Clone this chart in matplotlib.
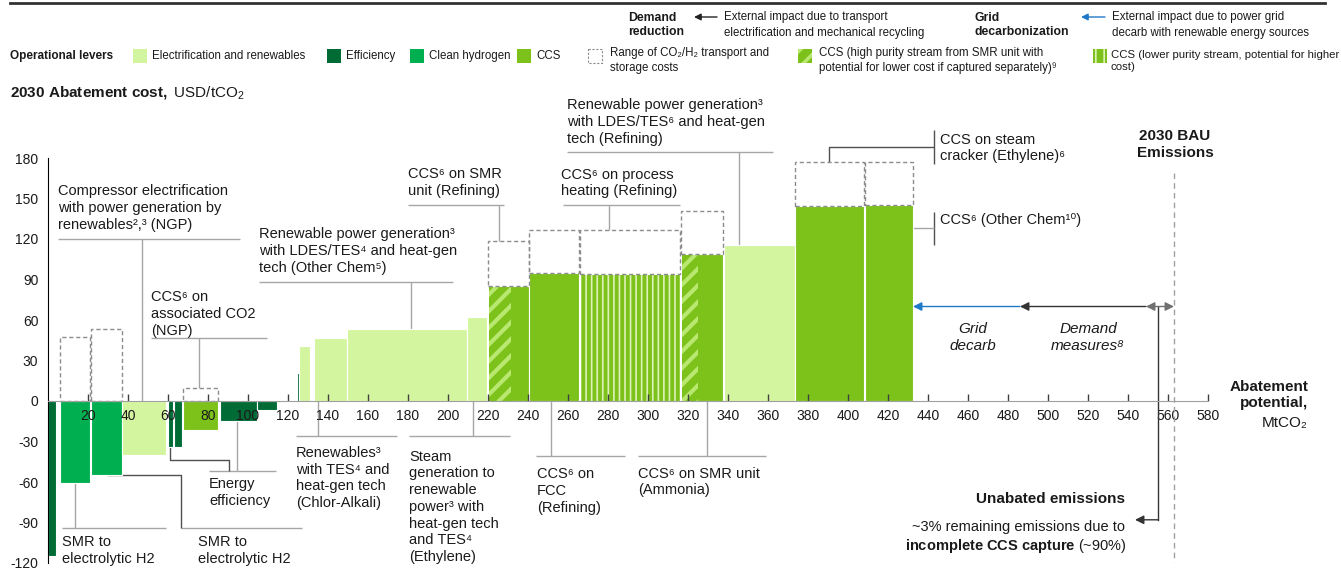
import matplotlib
matplotlib.use("Agg")
import matplotlib.pyplot as plt
from matplotlib.patches import Rectangle
import numpy as np

plt.rcParams['font.family'] = ['Liberation Sans', 'DejaVu Sans']
plt.rcParams['mathtext.fontset'] = 'custom'
plt.rcParams['mathtext.rm'] = 'Liberation Sans'
plt.rcParams['mathtext.it'] = 'Liberation Sans:italic'
plt.rcParams['mathtext.bf'] = 'Liberation Sans:bold'
plt.rcParams['axes.unicode_minus'] = False

# lever colours
colors = {'elec': '#D4F5A0', 'eff': '#006B35', 'h2': '#00B050', 'ccs': '#7CC21A'}
hatch_light = '#B9E870'
stripe_light = '#DDF2B8'
grey = '#A6A6A6'
dark = '#505050'
txt = '#1A1A1A'

# cost curve bars: left edge (MtCO2), width (MtCO2), cost (USD/tCO2), lever
bar_left = [0, 5, 6, 21.5, 37, 60, 63, 67.3, 86, 104.7, 115, 124.3, 125.7, 131.3,
            132.8, 149.5, 209.7, 220, 240.7, 266, 316.5, 338, 373.5, 408.3]
bar_width = [4, 0.7, 15, 15.5, 22, 2.6, 4.2, 17.7, 18.4, 10, 1, 1.1, 5.4, 0.9,
             16.5, 59.8, 9.8, 20.3, 25, 50.2, 21.2, 35.3, 34.6, 24]
bar_cost = [-115, -73, -60.5, -55, -40, -34, -34, -21.5, -15, -7, -1.5, 21, 40.7, 40.7,
            47, 53, 62, 85.4, 94.6, 94, 108.9, 115.5, 144.7, 145]
bar_lever = ['eff', 'eff', 'h2', 'h2', 'elec', 'eff', 'eff', 'ccs', 'eff', 'eff', 'elec',
             'eff', 'elec', 'elec', 'elec', 'elec', 'elec', 'ccs', 'ccs', 'ccs', 'ccs',
             'elec', 'ccs', 'ccs']
# top of the CO2/H2 transport and storage cost range (nan = none)
nan = np.nan
range_top = [nan, nan, 47.4, 53, nan, nan, nan, 10, nan, nan, nan, nan, nan, nan,
             nan, nan, nan, 118.5, 127, 127, 141, nan, 177, 177]
# part of the bar (MtCO2, from the left) that is high purity SMR stream
high_purity = [0] * 17 + [11.3, 0, 0, 8.3, 0, 0, 0]
# lower purity stream bars
low_purity = [False] * 19 + [True, False, False, False, False]

x_ticks = list(range(20, 581, 20))
y_ticks = list(range(-120, 181, 30))

# grid decarb / demand measures arrows (MtCO2) at cost level
arrow_level = 70
grid_decarb = (432.5, 486)
demand = (486, 549)
unabated = (549, 563)
bau = 563

fig = plt.figure(figsize=(13.41, 5.69), dpi=100)
ax = fig.add_axes([48 / 1341, 6 / 569, 1160 / 1341, 405 / 569])
ov = fig.add_axes([0, 0, 1, 1])
ov.set_xlim(0, 1341)
ov.set_ylim(569, 0)
ov.axis('off')

# bars
for i in range(len(bar_left)):
    ax.bar(bar_left[i], bar_cost[i], bar_width[i], align='edge',
           color=colors[bar_lever[i]], edgecolor='white', linewidth=0.8, zorder=1)
    if high_purity[i] > 0:
        with plt.rc_context({'hatch.linewidth': 3}):
            b = ax.bar(bar_left[i] + 0.3, bar_cost[i] - 0.6, high_purity[i] - 0.3,
                       align='edge', color=colors['ccs'], edgecolor=hatch_light,
                       linewidth=0, hatch='//', zorder=1.1)
        for p in b:
            if hasattr(p, 'set_hatch_linewidth'):
                p.set_hatch_linewidth(3)
    if low_purity[i]:
        with plt.rc_context({'hatch.linewidth': 1.2}):
            b = ax.bar(bar_left[i] + 0.3, bar_cost[i] - 0.6, bar_width[i] - 0.6,
                       align='edge', color=colors['ccs'], edgecolor=stripe_light,
                       linewidth=0, hatch='|||', zorder=1.1)
        for p in b:
            if hasattr(p, 'set_hatch_linewidth'):
                p.set_hatch_linewidth(1.2)
    if not np.isnan(range_top[i]):
        base = max(bar_cost[i], 0)
        ax.bar(bar_left[i], range_top[i] - base, bar_width[i], bottom=base,
               align='edge', fill=False, edgecolor='#8C8C8C', linewidth=1,
               linestyle=(0, (3, 2)), zorder=1.2)

# axes styling
ax.set_xlim(0, 580)
ax.set_ylim(-120, 180)
for s in ['top', 'right']:
    ax.spines[s].set_visible(False)
ax.spines['bottom'].set_position(('data', 0))
ax.spines['bottom'].set_color('#A0A0A0')
ax.spines['left'].set_color('black')
ax.set_xticks(x_ticks)
ax.set_yticks(y_ticks)
ax.tick_params(axis='x', direction='in', length=5, width=1, color='#404040',
               pad=6, labelsize=10, labelcolor=txt)
ax.tick_params(axis='y', length=0, pad=7, labelsize=10, labelcolor=txt)
ax.patch.set_alpha(0)

# leader lines and labels
labels = [
    "Compressor electrification\nwith power generation by\nrenewables²,³ (NGP)",
    "Renewable power generation³\nwith LDES/TES⁴ and heat-gen\ntech (Other Chem⁵)",
    "CCS⁶ on\nassociated CO2\n(NGP)",
    "CCS⁶ on SMR\nunit (Refining)",
    "CCS⁶ on process\nheating (Refining)",
    "Renewable power generation³\nwith LDES/TES⁶ and heat-gen\ntech (Refining)",
    "CCS on steam\ncracker (Ethylene)⁶",
    "CCS⁶ (Other Chem¹⁰)",
    "SMR to\nelectrolytic H2",
    "SMR to\nelectrolytic H2",
    "Energy\nefficiency",
    "Renewables³\nwith TES⁴ and\nheat-gen tech\n(Chlor-Alkali)",
    "Steam\ngeneration to\nrenewable\npower³ with\nheat-gen tech\nand TES⁴\n(Ethylene)",
    "CCS⁶ on\nFCC\n(Refining)",
    "CCS⁶ on SMR unit\n(Ammonia)",
]
label_pos = [(5, 143), (105.5, 111), (51.5, 64.4), (180, 162), (256.5, 161.5),
             (259.5, 206.7), (446, 187.4), (446, 134), (7, -110.7), (75, -110.7),
             (80.5, -68), (124, -57), (180.5, -78.5), (244.5, -66.7), (295, -60)]
leader_lines = [
    ([(5, 120), (96, 120)], [(47, 120), (47, 0)]),
    ([(105.5, 88), (202.5, 88)], [(181.5, 88), (181.5, 53)]),
    ([(51.5, 46.7), (109.5, 46.7)], [(75.5, 46.7), (75.5, 10)]),
    ([(180, 145), (228, 145)], [(225.5, 145), (225.5, 118.5)]),
    ([(257.5, 145), (316, 145)], [(280.5, 145), (280.5, 127)]),
    ([(259.5, 184.4), (362.5, 184.4)], [(345.5, 184.4), (345.5, 115.5)]),
    ([(443, 200.7), (443, 175.6)], [(390.5, 177), (390.5, 188), (443, 188)]),
    ([(443, 140), (443, 115.5)], [(432.5, 128), (443, 128)]),
    ([(7, -94), (59, -94)], [(13.5, -60.5), (13.5, -94)]),
    ([(66.5, -94), (127, -94)], [(29.5, -55), (66.5, -55), (66.5, -94)]),
    ([(80.5, -51.9), (114, -51.9)], [(61, -34), (61, -43.7), (90.5, -43.7), (90.5, -51.9)],
     [(94.5, -15), (94.5, -51.9)]),
    ([(124, -25.9), (174.5, -25.9)], [(135, 0), (135, -25.9)]),
    ([(180.5, -25.9), (231, -25.9)], [(212.5, 0), (212.5, -25.9)]),
    ([(244, -40.7), (288.5, -40.7)], [(251.5, 0), (251.5, -40.7)]),
    ([(295, -40.7), (359, -40.7)], [(329.5, 0), (329.5, -40.7)]),
]
dark_paths = {6: [0, 1], 7: [0], 9: [1], 10: [1]}

for k, lab in enumerate(labels):
    ax.text(label_pos[k][0], label_pos[k][1], lab, ha='left', va='center',
            fontsize=10.5, color=txt, linespacing=1.25, clip_on=False)
    for j, path in enumerate(leader_lines[k]):
        xs = [p[0] for p in path]
        ys = [p[1] for p in path]
        c = dark if j in dark_paths.get(k, []) else grey
        ax.plot(xs, ys, color=c, lw=1, clip_on=False, zorder=0.9,
                solid_capstyle='butt')

# external impact arrows
ax.annotate('', xy=(grid_decarb[0], arrow_level), xytext=(grid_decarb[1], arrow_level),
            arrowprops=dict(arrowstyle='-|>', color='#1F78C8', lw=1, mutation_scale=13,
                            shrinkA=0, shrinkB=0))
ax.annotate('', xy=(demand[0], arrow_level), xytext=(demand[1], arrow_level),
            arrowprops=dict(arrowstyle='-|>', color='#333333', lw=1, mutation_scale=13,
                            shrinkA=0, shrinkB=0))
ax.annotate('', xy=(unabated[0], arrow_level), xytext=(unabated[1], arrow_level),
            arrowprops=dict(arrowstyle='<|-|>', color='#707070', lw=1, mutation_scale=13,
                            shrinkA=0, shrinkB=0))
ax.plot([555, 555], [arrow_level, -88], color='#333333', lw=1, zorder=2)
ax.annotate('', xy=(543.5, -88), xytext=(555, -88),
            arrowprops=dict(arrowstyle='-|>', color='#333333', lw=1, mutation_scale=13,
                            shrinkA=0, shrinkB=0))
ax.plot([bau, bau], [169, -119], color='#A0A0A0', lw=1, linestyle=(0, (4, 3)), clip_on=False)

ax.text(563.5, 190, "2030 BAU\nEmissions", ha='center', va='center', fontsize=11,
        fontweight='bold', color=txt, linespacing=1.2, clip_on=False)
ax.text(462.5, 47, "Grid\ndecarb", ha='center', va='center', fontsize=11,
        style='italic', color=txt, linespacing=1.25)
ax.text(520, 47, "Demand\nmeasures⁸", ha='center', va='center', fontsize=11,
        style='italic', color=txt, linespacing=1.25)
ax.text(630, 4.4, "Abatement\npotential,", ha='right', va='center', fontsize=11,
        fontweight='bold', color=txt, linespacing=1.2, clip_on=False)
ax.text(630, -16.3, "MtCO₂", ha='right', va='center', fontsize=11, color=txt,
        clip_on=False)
ax.text(538.5, -72.6, "Unabated emissions", ha='right', va='center', fontsize=11,
        fontweight='bold', color=txt)
ax.text(538.5, -93.3, "~3% remaining emissions due to", ha='right', va='center',
        fontsize=10.5, color=txt)
ax.text(539.5, -107.4, r"$\mathbf{incomplete\ CCS\ capture}$ (~90%)", ha='right',
        va='center', fontsize=10.5, color=txt)

# header / legend (figure pixels)
ov.plot([10, 1325], [3, 3], color='#333333', lw=2)
ov.text(10, 92, r"$\mathbf{2030\ Abatement\ cost,}$ USD/tCO$_2$", ha='left', va='center',
        fontsize=11, color=txt)

ov.text(628, 25, "Demand\nreduction", ha='left', va='center', fontsize=8.8,
        fontweight='bold', color=txt, linespacing=1.3)
ov.annotate('', xy=(694, 17), xytext=(717, 17),
            arrowprops=dict(arrowstyle='-|>', color='#222222', lw=1, mutation_scale=10,
                            shrinkA=0, shrinkB=0))
ov.text(724, 25, "External impact due to transport\nelectrification and mechanical recycling",
        ha='left', va='center', fontsize=8.3, color=txt, linespacing=1.35)
ov.text(975, 25, "Grid\ndecarbonization", ha='left', va='center', fontsize=8.8,
        fontweight='bold', color=txt, linespacing=1.3)
ov.annotate('', xy=(1081, 17), xytext=(1105, 17),
            arrowprops=dict(arrowstyle='-|>', color='#1F78C8', lw=1, mutation_scale=10,
                            shrinkA=0, shrinkB=0))
ov.text(1112, 25, "External impact due to power grid\ndecarb with renewable energy sources",
        ha='left', va='center', fontsize=8.3, color=txt, linespacing=1.35)

ov.text(10, 56, "Operational levers", ha='left', va='center', fontsize=8.5,
        fontweight='bold', color=txt)
legend_items = [
    (133, 'elec', "Electrification and renewables"),
    (327, 'eff', "Efficiency"),
    (410, 'h2', "Clean hydrogen"),
    (517, 'ccs', "CCS"),
]
for x0, key, lab in legend_items:
    ov.add_patch(Rectangle((x0, 49), 14, 14, facecolor=colors[key], edgecolor='none'))
    ov.text(x0 + 19, 56, lab, ha='left', va='center', fontsize=8.3, color=txt)

ov.add_patch(Rectangle((588, 49), 14, 14, fill=False, edgecolor='#8C8C8C', lw=0.8,
                       linestyle=(0, (2, 1.5))))
ov.text(610, 60.5, "Range of CO₂/H₂ transport and\nstorage costs", ha='left', va='center',
        fontsize=8.3, color=txt, linespacing=1.25)
with plt.rc_context({'hatch.linewidth': 2.5}):
    hp = Rectangle((798, 49), 14, 14, facecolor=colors['ccs'], edgecolor=hatch_light,
                   lw=0, hatch='//')
if hasattr(hp, 'set_hatch_linewidth'):
    hp.set_hatch_linewidth(2.5)
ov.add_patch(hp)
ov.text(819, 60.5, "CCS (high purity stream from SMR unit with\n"
        "potential for lower cost if captured separately)⁹",
        ha='left', va='center', fontsize=8.3, color=txt, linespacing=1.25)
with plt.rc_context({'hatch.linewidth': 1.2}):
    sp = Rectangle((1093, 49), 14, 14, facecolor=colors['ccs'], edgecolor=stripe_light,
                   lw=0, hatch='||')
if hasattr(sp, 'set_hatch_linewidth'):
    sp.set_hatch_linewidth(1.2)
ov.add_patch(sp)
ov.text(1111, 60.5, "CCS (lower purity stream, potential for higher\ncost)",
        ha='left', va='center', fontsize=8.2, color=txt, linespacing=1.25)

fig.savefig('out.png', dpi=100)
